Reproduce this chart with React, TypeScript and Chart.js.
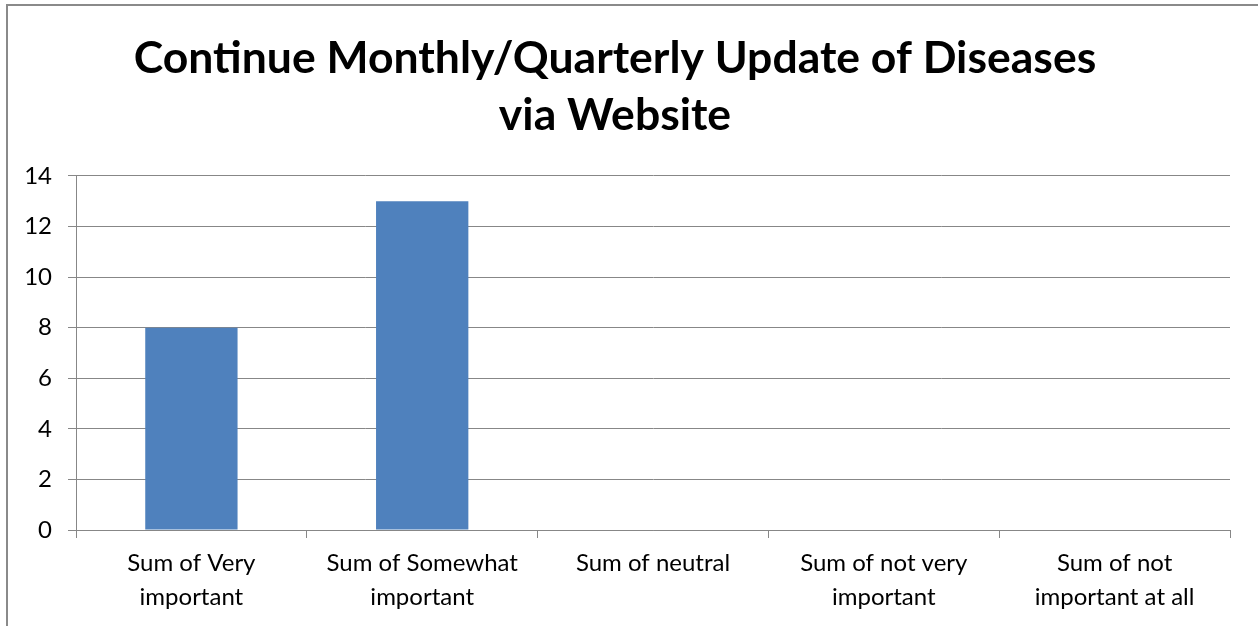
import React, { useEffect, useRef } from "react";
import { Chart, registerables } from "chart.js";

Chart.register(...registerables);

const titleLines = ["Continue Monthly/Quarterly Update of Diseases", "via Website"];
const categories: string[][] = [
  ["Sum of Very", "important"],
  ["Sum of Somewhat", "important"],
  ["Sum of neutral"],
  ["Sum of not very", "important"],
  ["Sum of not", "important at all"],
];
const values: number[] = [8, 13, 0, 0, 0];
const yMin = 0;
const yMax = 14;
const yStep = 2;

const FONT = "Lato, 'Open Sans', sans-serif";
const GRID = "#878787";

export default function App() {
  const ref = useRef<HTMLCanvasElement | null>(null);

  useEffect(() => {
    if (!ref.current) return;
    const chart = new Chart(ref.current, {
      type: "bar",
      data: {
        labels: categories,
        datasets: [
          {
            data: values,
            backgroundColor: "#4f81bd",
            borderWidth: 0,
            barPercentage: 0.4,
            categoryPercentage: 1,
          },
        ],
      },
      options: {
        animation: false,
        responsive: false,
        maintainAspectRatio: false,
        layout: { padding: { left: 0, right: 28, top: 0, bottom: 0 } },
        plugins: {
          legend: { display: false },
          tooltip: { enabled: false },
          title: {
            display: true,
            text: titleLines,
            color: "#000000",
            font: { family: FONT, size: 44.5, weight: "bold", lineHeight: 1.28 },
            padding: { top: 30, bottom: 32 },
          },
        },
        scales: {
          x: {
            offset: true,
            grid: {
              offset: true,
              drawOnChartArea: false,
              drawTicks: true,
              tickLength: 8,
              color: GRID,
              lineWidth: 1,
            },
            border: { display: true, color: GRID, width: 1 },
            ticks: {
              color: "#000000",
              font: { family: FONT, size: 24, lineHeight: 1.42 },
              padding: 8,
              maxRotation: 0,
              autoSkip: false,
            },
            afterFit: (scale: any) => {
              scale.height = 96;
            },
          },
          y: {
            min: yMin,
            max: yMax,
            ticks: {
              stepSize: yStep,
              color: "#000000",
              font: { family: FONT, size: 24 },
              padding: 16,
            },
            grid: {
              color: GRID,
              lineWidth: 1,
              tickLength: 8,
            },
            border: { display: true, color: GRID, width: 1 },
            afterFit: (scale: any) => {
              scale.width = 76;
            },
          },
        },
      },
    });
    return () => chart.destroy();
  }, []);

  return (
    <div
      style={{
        position: "fixed",
        left: 0,
        top: 0,
        width: 1258,
        height: 626,
        background: "#ffffff",
        overflow: "hidden",
      }}
    >
      <div
        style={{
          position: "absolute",
          left: 6,
          top: 4,
          width: 1280,
          height: 660,
          border: "2px solid #8a8a8a",
          boxSizing: "border-box",
        }}
      />
      <canvas
        ref={ref}
        width={1258}
        height={626}
        style={{ position: "absolute", left: 0, top: 0, width: 1258, height: 626 }}
      />
    </div>
  );
}
